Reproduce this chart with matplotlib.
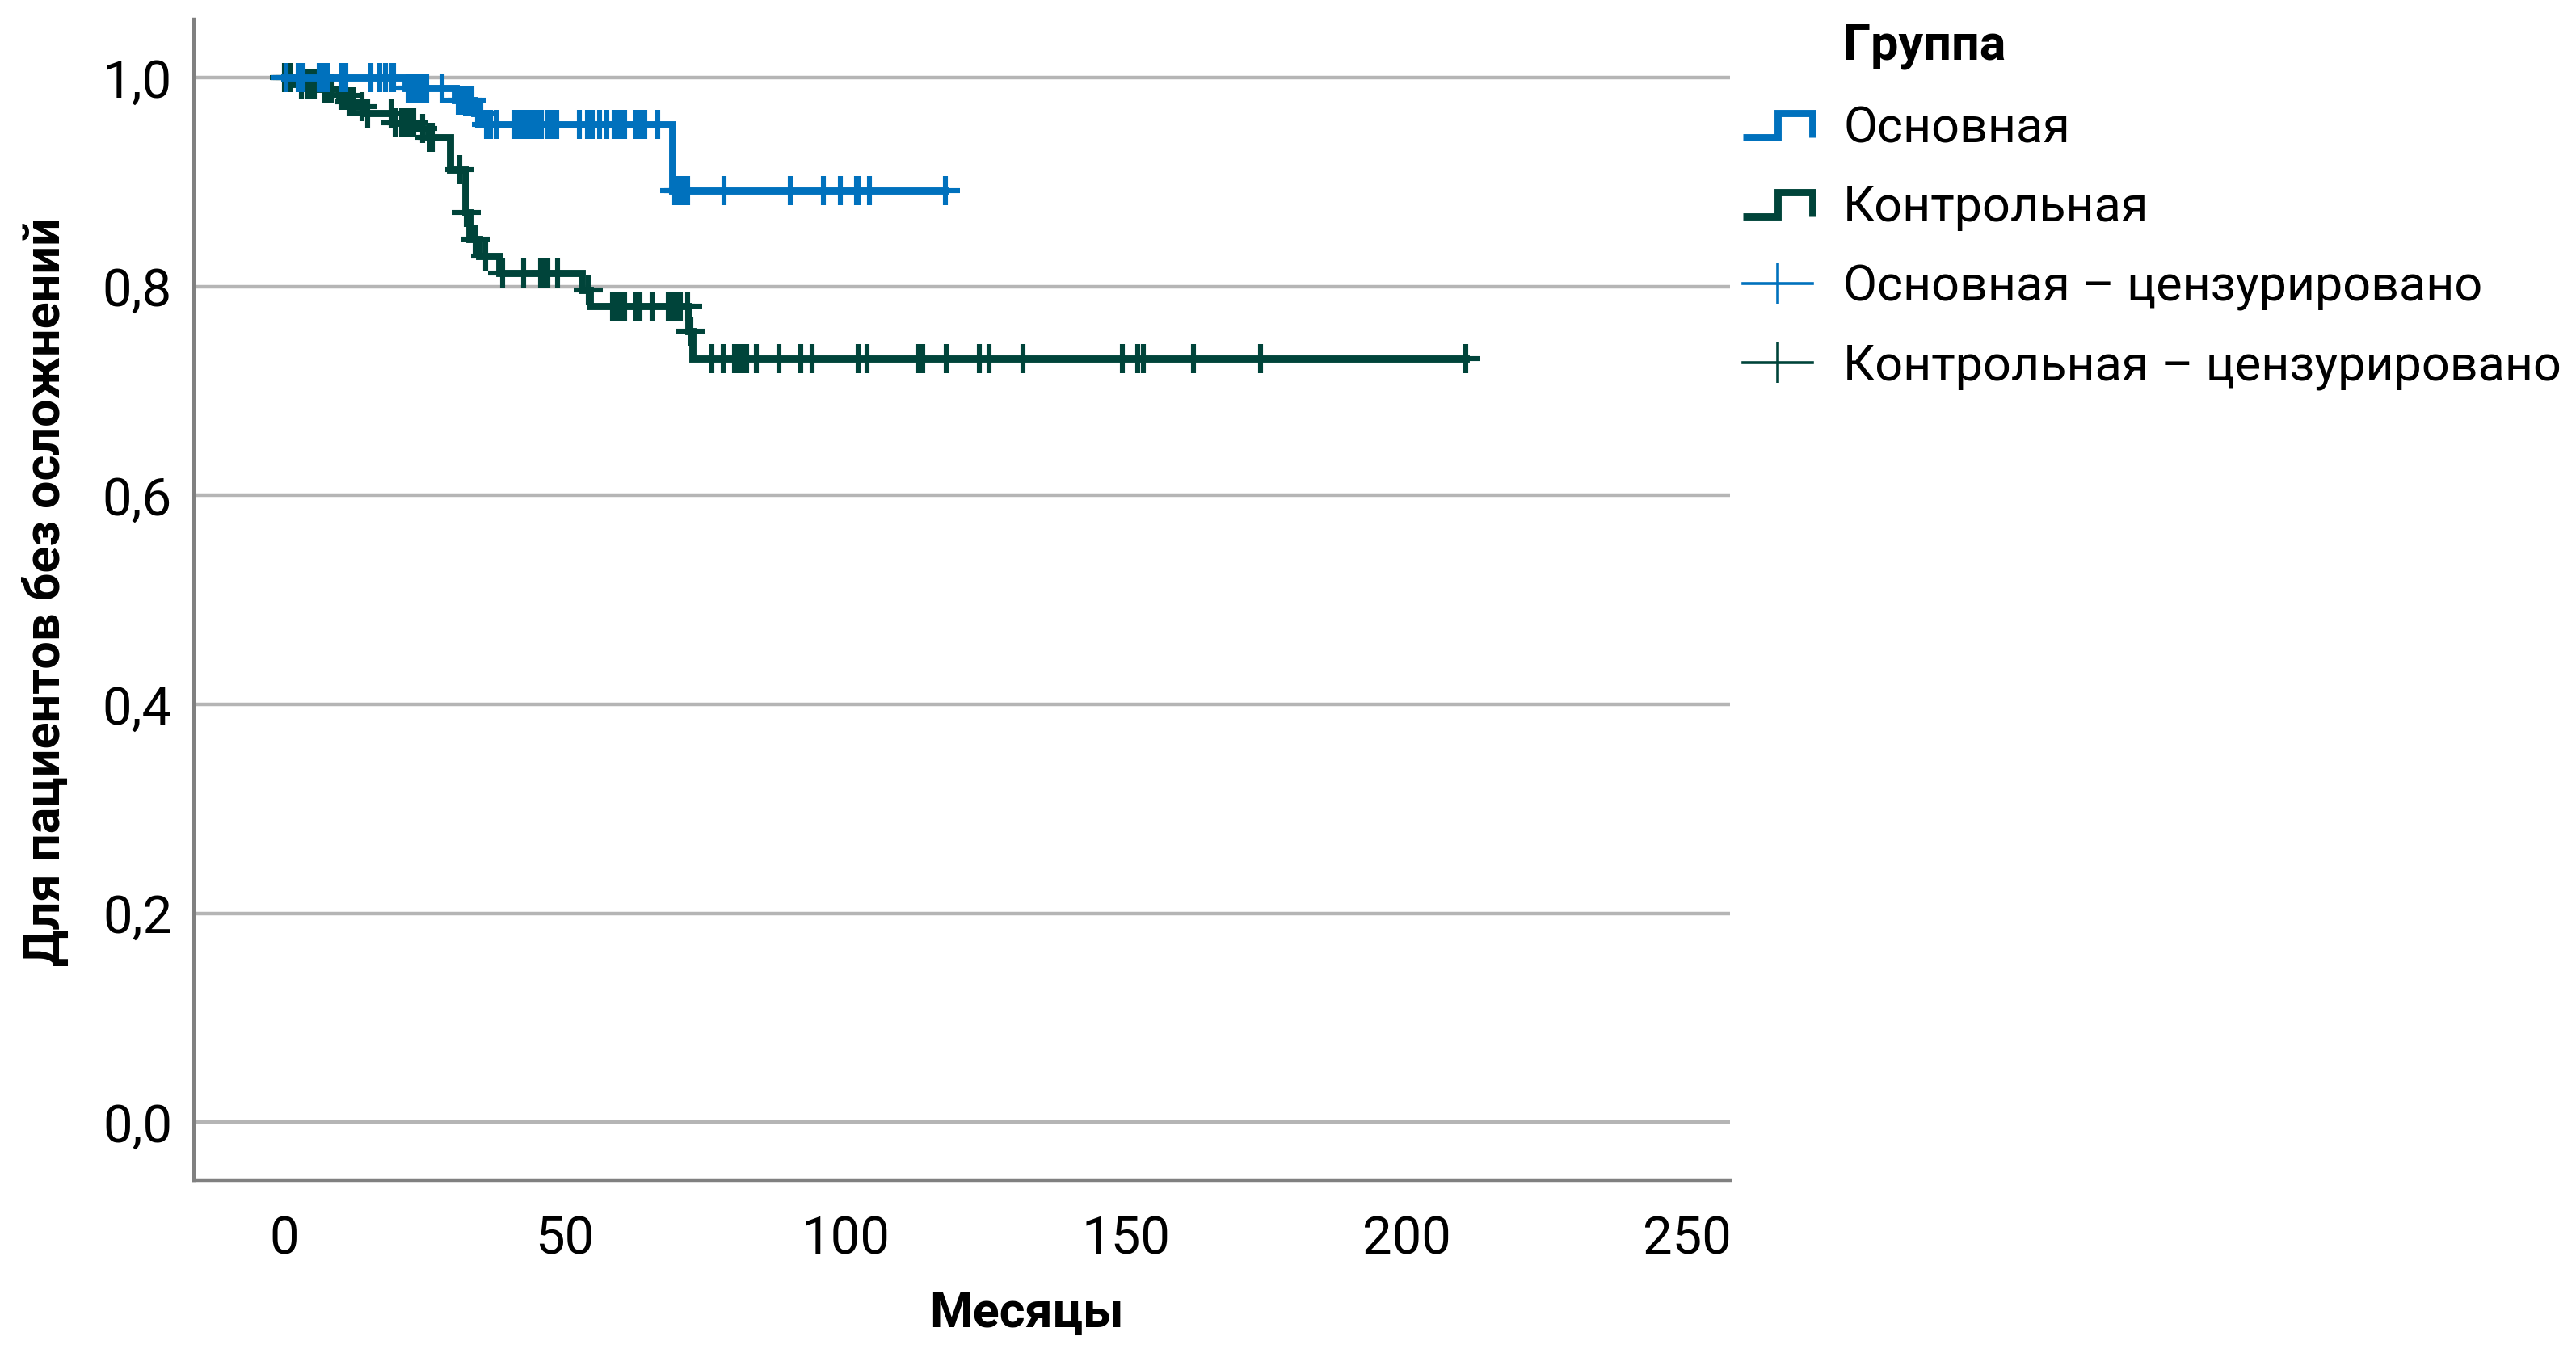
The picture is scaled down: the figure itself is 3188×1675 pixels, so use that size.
import numpy as np
import matplotlib.pyplot as plt
from matplotlib.lines import Line2D
from matplotlib.legend_handler import HandlerBase

plt.rcParams['font.family'] = ['Roboto', 'DejaVu Sans']

BLUE = '#0071bd'
GREEN = '#00443a'
FS = 23.5      # tick labels
FS_TXT = 22    # axis titles and legend

# Основная: event times (months) and survival after each event
main_event_t = [21.6, 30.5, 33.8, 35.6, 69.1]
main_event_s = [0.990, 0.978, 0.966, 0.955, 0.892]
main_censor_t = [0.3, 2.4, 3.35, 6.2, 6.95, 7.7, 10.3, 11.0, 15.4, 17.0, 18.0, 19.0, 19.4,
                 22.1, 22.8, 23.8, 24.5, 25.4, 28.1, 31.0, 31.7, 32.6, 33.4, 34.4, 35.0,
                 36.0, 36.7, 37.7, 41.0, 41.8, 42.5, 43.2, 44.1, 44.9, 45.8, 46.8, 47.7, 48.5,
                 52.6, 54.0, 54.9, 56.1, 57.4, 58.8, 59.8, 60.7, 62.6, 63.4, 64.3, 66.5,
                 69.6, 70.3, 71.0, 71.8, 78.4, 90.2, 96.1, 99.1, 101.9, 102.3, 104.2, 117.8]

# Контрольная
ctrl_event_t = [1.2, 6.0, 9.8, 11.3, 12.7, 14.6, 19.4, 23.8, 25.7, 29.5, 32.3, 33.0,
                34.7, 38.3, 53.0, 54.5, 72.0, 72.7]
ctrl_event_s = [0.994, 0.989, 0.983, 0.977, 0.972, 0.966, 0.957, 0.951, 0.943, 0.912, 0.871, 0.845,
                0.829, 0.813, 0.797, 0.781, 0.757, 0.731]
ctrl_censor_t = [0.0, 0.3, 0.6, 1.0, 3.1, 4.1, 4.8, 5.3, 7.2, 7.7, 8.4, 10.1, 10.8, 11.6, 12.2,
                 13.9, 14.9, 19.0, 19.8, 20.9, 21.6, 22.3, 23.0, 24.7, 25.9, 26.4, 31.2, 32.4,
                 34.0, 35.8, 38.9, 42.7, 45.6, 46.1, 46.6, 47.0, 48.7, 54.2, 58.5, 59.0, 59.8,
                 60.7, 62.6, 63.4, 65.5, 68.4, 69.1, 69.6, 70.1, 70.6, 71.8, 72.4, 76.2, 78.2,
                 80.2, 80.9, 81.6, 82.3, 84.1, 88.2, 92.0, 94.0, 102.2, 103.8, 113.1, 113.7,
                 117.9, 123.8, 125.6, 131.6, 149.3, 152.1, 153.1, 162.0, 174.0, 210.5]

xticks = [0, 50, 100, 150, 200, 250]
yticks = [0.0, 0.2, 0.4, 0.6, 0.8, 1.0]
ytick_labels = ['0,0', '0,2', '0,4', '0,6', '0,8', '1,0']
group_labels = ['Основная', 'Контрольная',
                'Основная – цензурировано', 'Контрольная – цензурировано']


def km_path(times, surv, end):
    x = np.concatenate([[0.0], times, [end]])
    y = np.concatenate([[1.0], surv, [surv[-1]]])
    return x, y


def censor_levels(times, surv, cens):
    levels = np.concatenate([[1.0], surv])
    return levels[np.searchsorted(times, cens, side='right')]


class StepHandler(HandlerBase):
    def create_artists(self, legend, orig_handle, xdescent, ydescent,
                       width, height, fontsize, trans):
        x0, y0 = -xdescent, -ydescent
        lo, hi = y0 + height * 0.15, y0 + height * 0.85
        xs = [x0, x0 + width * 0.5, x0 + width * 0.5, x0 + width, x0 + width]
        ys = [lo, lo, hi, hi, lo]
        line = Line2D(xs, ys, color=orig_handle.get_color(), lw=orig_handle.get_linewidth(),
                      solid_joinstyle='miter', solid_capstyle='butt', transform=trans)
        return [line]


fig = plt.figure(figsize=(15.94, 8.375), dpi=200)
ax = fig.add_axes([0.0753, 0.1279, 0.5963, 0.8578])

ctrl_x, ctrl_y = km_path(ctrl_event_t, ctrl_event_s, ctrl_censor_t[-1])
main_x, main_y = km_path(main_event_t, main_event_s, main_censor_t[-1])

ctrl_line, = ax.step(ctrl_x, ctrl_y, where='post', color=GREEN, lw=3.2,
                     solid_joinstyle='miter', zorder=3)
ax.plot(ctrl_censor_t, censor_levels(ctrl_event_t, ctrl_event_s, ctrl_censor_t),
        ls='none', marker='+', ms=13, mew=2.2, color=GREEN, zorder=3)
main_line, = ax.step(main_x, main_y, where='post', color=BLUE, lw=3.2,
                     solid_joinstyle='miter', zorder=4)
ax.plot(main_censor_t, censor_levels(main_event_t, main_event_s, main_censor_t),
        ls='none', marker='+', ms=13, mew=2.2, color=BLUE, zorder=4)

ax.set_xlim(-16.1, 257.6)
ax.set_ylim(-0.0552, 1.0557)
ax.set_xticks(xticks)
ax.set_yticks(yticks, ytick_labels)
ax.yaxis.grid(True, color='#b5b5b5', lw=1.6)
ax.set_axisbelow(True)
for s in ['top', 'right']:
    ax.spines[s].set_visible(False)
for s in ['left', 'bottom']:
    ax.spines[s].set_color('#808080')
    ax.spines[s].set_linewidth(1.6)
ax.tick_params(axis='both', length=0, labelsize=FS)
ax.tick_params(axis='x', pad=15.5)
ax.tick_params(axis='y', pad=9.7)

ax.set_xlabel('Месяцы', fontsize=FS_TXT, fontweight='bold', va='center')
ax.xaxis.set_label_coords(0.542, -0.115)
ax.set_ylabel('Для пациентов без осложнений', fontsize=FS_TXT, fontweight='bold', va='center')
ax.yaxis.set_label_coords(-0.0963, 0.507)

cens_main = Line2D([], [], color=BLUE, lw=1.3, marker='|', ms=18, mew=1.3)
cens_ctrl = Line2D([], [], color=GREEN, lw=1.3, marker='|', ms=18, mew=1.3)
ax.legend([main_line, ctrl_line, cens_main, cens_ctrl], group_labels,
          handler_map={main_line: StepHandler(), ctrl_line: StepHandler()},
          loc='upper left', bbox_to_anchor=(0.6766, 0.922), bbox_transform=fig.transFigure,
          frameon=False, fontsize=FS_TXT, borderpad=0, borderaxespad=0,
          handlelength=1.41, handletextpad=0.62, labelspacing=0.65)
fig.text(0.7155, 0.966, 'Группа', fontsize=FS_TXT, fontweight='bold', va='center', ha='left')

fig.savefig('out.png', dpi=200, facecolor='white')
